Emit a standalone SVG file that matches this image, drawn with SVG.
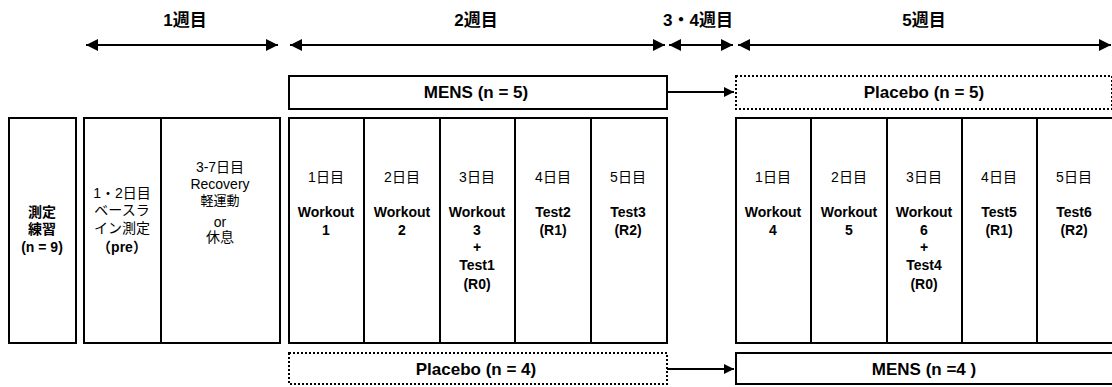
<svg xmlns="http://www.w3.org/2000/svg" width="1112" height="387" viewBox="0 0 1112 387">
<defs>
<style>
text{font-family:"Liberation Sans","Noto Sans CJK JP",sans-serif;fill:#000;text-anchor:middle}
.wk{font-size:17px;font-weight:bold}
.grp{font-size:17px;font-weight:bold}
.t{font-size:14px}
.s{font-size:13px}
.b{font-size:14px;font-weight:bold}
.box{fill:#fff;stroke:#000;stroke-width:2}
.dot{fill:#fff;stroke:#000;stroke-width:2;stroke-dasharray:2 2}
.ln{stroke:#000;stroke-width:2;fill:none}
</style>
<marker id="ah" viewBox="0 0 12 12" refX="12" refY="6" markerWidth="12" markerHeight="12" markerUnits="userSpaceOnUse" orient="auto-start-reverse">
<path d="M0,0 L12,6 L0,12 Z" fill="#000"/>
</marker>
<marker id="ah2" viewBox="0 0 10 10" refX="10" refY="5" markerWidth="10" markerHeight="10" markerUnits="userSpaceOnUse" orient="auto">
<path d="M0,0 L10,5 L0,10 Z" fill="#000"/>
</marker>
</defs>
<rect width="1112" height="387" fill="#fff"/>

<g id="week-labels">
<text class="wk" x="185" y="26">1週目</text>
<text class="wk" x="476" y="26">2週目</text>
<text class="wk" x="698" y="26">3・4週目</text>
<text class="wk" x="924" y="26">5週目</text>
</g>

<g id="connectors">
<line class="ln" x1="86" y1="45" x2="278" y2="45" marker-start="url(#ah)" marker-end="url(#ah)"/>
<line class="ln" x1="290" y1="45" x2="665" y2="45" marker-start="url(#ah)" marker-end="url(#ah)"/>
<line class="ln" x1="669" y1="45" x2="733" y2="45" marker-start="url(#ah)" marker-end="url(#ah)"/>
<line class="ln" x1="738" y1="45" x2="1111" y2="45" marker-start="url(#ah)" marker-end="url(#ah)"/>
<line class="ln" x1="667" y1="92" x2="734" y2="92" marker-end="url(#ah2)"/>
<line class="ln" x1="667" y1="369" x2="734" y2="369" marker-end="url(#ah2)"/>
</g>

<g id="mens-5">
<rect class="box" x="289" y="76" width="378" height="33"/>
<text class="grp" x="476" y="98">MENS (n = 5)</text>
</g>
<g id="placebo-5">
<rect class="dot" x="736" y="76" width="376" height="33"/>
<text class="grp" x="924" y="98">Placebo (n = 5)</text>
</g>
<g id="placebo-4">
<rect class="dot" x="289" y="353" width="378" height="31"/>
<text class="grp" x="476" y="375">Placebo (n = 4)</text>
</g>
<g id="mens-4">
<rect class="box" x="736" y="353" width="378" height="31"/>
<text class="grp" x="924" y="375">MENS (n =4 )</text>
</g>

<g id="practice">
<rect class="box" x="9" y="118" width="67" height="225"/>
<text class="b" x="42" y="217">測定</text>
<text class="b" x="42" y="234">練習</text>
<text class="b" x="42" y="252">(n = 9)</text>
</g>

<g id="baseline">
<rect class="box" x="84" y="118" width="77" height="225"/>
<text class="t" x="122" y="198">1・2日目</text>
<text class="t" x="122" y="215">ベースラ</text>
<text class="t" x="122" y="233">イン測定</text>
<text class="b" x="122" y="252">（pre）</text>
</g>

<g id="recovery">
<rect class="box" x="161" y="118" width="119" height="225"/>
<text class="t" x="220" y="172">3-7日目</text>
<text class="t" x="220" y="189">Recovery</text>
<text class="s" x="220" y="205">軽運動</text>
<text class="t" x="220" y="227">or</text>
<text class="t" x="220" y="242">休息</text>
</g>

<g id="w2-day1">
<rect class="box" x="289" y="118" width="75" height="225"/>
<text class="t" x="326" y="182">1日目</text>
<text class="b" x="326" y="217">Workout</text>
<text class="b" x="326" y="235">1</text>
</g>
<g id="w2-day2">
<rect class="box" x="364" y="118" width="76" height="225"/>
<text class="t" x="402" y="182">2日目</text>
<text class="b" x="402" y="217">Workout</text>
<text class="b" x="402" y="235">2</text>
</g>
<g id="w2-day3">
<rect class="box" x="440" y="118" width="75" height="225"/>
<text class="t" x="477" y="182">3日目</text>
<text class="b" x="477" y="217">Workout</text>
<text class="b" x="477" y="235">3</text>
<text class="b" x="477" y="252">+</text>
<text class="b" x="477" y="270">Test1</text>
<text class="b" x="477" y="289">(R0)</text>
</g>
<g id="w2-day4">
<rect class="box" x="515" y="118" width="76" height="225"/>
<text class="t" x="553" y="182">4日目</text>
<text class="b" x="553" y="217">Test2</text>
<text class="b" x="553" y="235">(R1)</text>
</g>
<g id="w2-day5">
<rect class="box" x="591" y="118" width="76" height="225"/>
<text class="t" x="628" y="182">5日目</text>
<text class="b" x="628" y="217">Test3</text>
<text class="b" x="628" y="235">(R2)</text>
</g>

<g id="w5-day1">
<rect class="box" x="736" y="118" width="75" height="225"/>
<text class="t" x="773" y="182">1日目</text>
<text class="b" x="773" y="217">Workout</text>
<text class="b" x="773" y="235">4</text>
</g>
<g id="w5-day2">
<rect class="box" x="811" y="118" width="76" height="225"/>
<text class="t" x="849" y="182">2日目</text>
<text class="b" x="849" y="217">Workout</text>
<text class="b" x="849" y="235">5</text>
</g>
<g id="w5-day3">
<rect class="box" x="887" y="118" width="75" height="225"/>
<text class="t" x="924" y="182">3日目</text>
<text class="b" x="924" y="217">Workout</text>
<text class="b" x="924" y="235">6</text>
<text class="b" x="924" y="252">+</text>
<text class="b" x="924" y="270">Test4</text>
<text class="b" x="924" y="289">(R0)</text>
</g>
<g id="w5-day4">
<rect class="box" x="962" y="118" width="75" height="225"/>
<text class="t" x="999" y="182">4日目</text>
<text class="b" x="999" y="217">Test5</text>
<text class="b" x="999" y="235">(R1)</text>
</g>
<g id="w5-day5">
<rect class="box" x="1037" y="118" width="77" height="225"/>
<text class="t" x="1074" y="182">5日目</text>
<text class="b" x="1074" y="217">Test6</text>
<text class="b" x="1074" y="235">(R2)</text>
</g>
</svg>
